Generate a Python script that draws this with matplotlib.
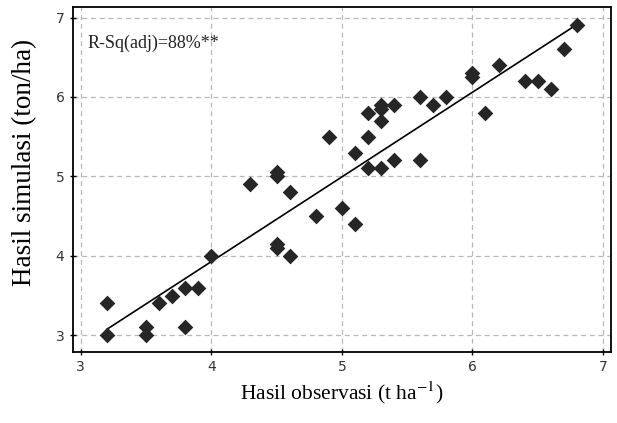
import numpy as np
import matplotlib
matplotlib.use('Agg')
import matplotlib.pyplot as plt

plt.rcParams['mathtext.fontset'] = 'stix'

obs = [3.2, 3.2, 3.5, 3.5, 3.6, 3.7, 3.8, 3.9, 3.8, 4.0,
       4.3, 4.5, 4.5, 4.5, 4.5, 4.6, 4.6, 4.8, 5.0, 5.1,
       4.9, 5.1, 5.2, 5.2, 5.2, 5.3, 5.3, 5.3, 5.3, 5.4,
       5.4, 5.6, 5.6, 5.7, 5.8, 6.0, 6.0, 6.1, 6.2, 6.4,
       6.5, 6.6, 6.7, 6.8]
sim = [3.4, 3.0, 3.1, 3.0, 3.4, 3.5, 3.6, 3.6, 3.1, 4.0,
       4.9, 5.0, 5.05, 4.1, 4.15, 4.0, 4.8, 4.5, 4.6, 4.4,
       5.5, 5.3, 5.8, 5.5, 5.1, 5.9, 5.85, 5.7, 5.1, 5.9,
       5.2, 6.0, 5.2, 5.9, 6.0, 6.3, 6.25, 5.8, 6.4, 6.2,
       6.2, 6.1, 6.6, 6.9]
ticks = [3, 4, 5, 6, 7]
note = 'R-Sq(adj)=88%**'

fig = plt.figure(figsize=(6.17, 4.23), dpi=100)
ax = fig.add_axes([0.118, 0.168, 0.872, 0.815])

ax.scatter(obs, sim, marker='D', s=64, color='#262626', zorder=3, linewidths=0)

# fitted line
b, a = np.polyfit(obs, sim, 1)
xl = np.array([min(obs), max(obs)])
ax.plot(xl, a + b * xl, color='black', lw=1.2, zorder=2)

ax.set_xlim(2.94, 7.06)
ax.set_ylim(2.79, 7.13)
ax.set_xticks(ticks)
ax.set_yticks(ticks)
ax.grid(True, color='#b8b8b8', linestyle=(0, (4, 3)), lw=0.9)
ax.tick_params(direction='inout', length=5, width=1, labelsize=10)
for lab in ax.get_xticklabels() + ax.get_yticklabels():
    lab.set_family('DejaVu Sans')
    lab.set_color('#333333')
for sp in ax.spines.values():
    sp.set_linewidth(1.3)

ax.text(3.05, 6.67, note, family='Liberation Serif', fontsize=13, va='center', color='#222222')
ax.set_xlabel('Hasil observasi (t ha$^{-1}$)', family='Liberation Serif', fontsize=15.5, labelpad=4)
ax.set_ylabel('Hasil simulasi (ton/ha)', family='Liberation Serif', fontsize=19.5)
ax.yaxis.set_label_coords(-0.066, 0.55)

fig.savefig('out.png', dpi=100)
